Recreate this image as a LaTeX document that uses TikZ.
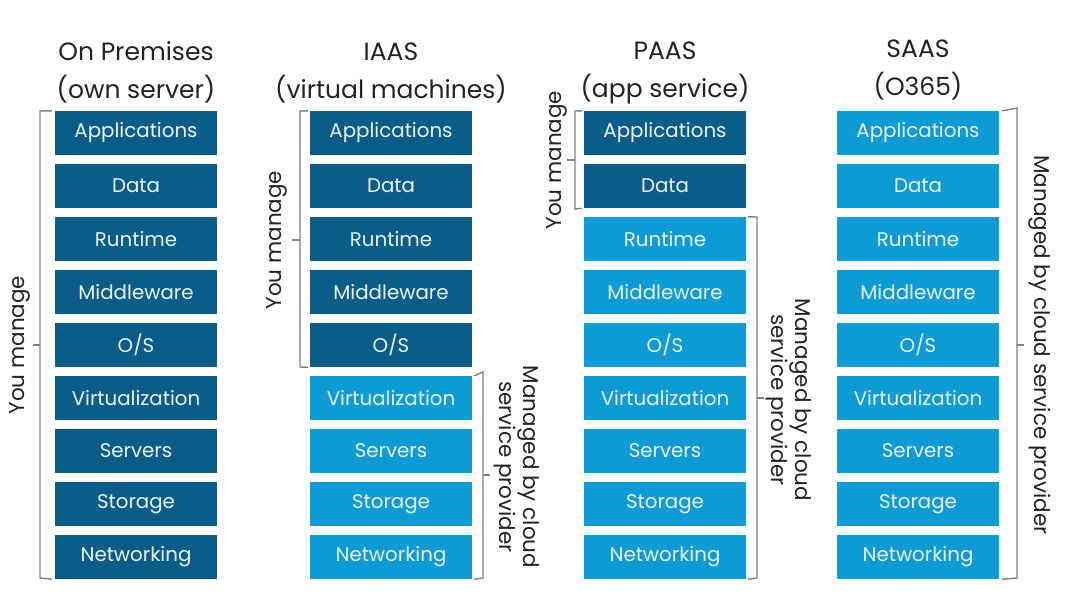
\documentclass[tikz,border=0pt]{standalone}
\usepackage{fontspec}
\setmainfont{Poppins}
\definecolor{darkbox}{RGB}{11,92,136}
\definecolor{lightbox}{RGB}{14,154,212}
\definecolor{boxtext}{RGB}{232,244,250}
\definecolor{brk}{RGB}{128,128,128}
\definecolor{ttl}{RGB}{34,34,34}
\begin{document}
\begin{tikzpicture}[x=1pt,y=-1pt,
  layer/.style={minimum width=162pt,minimum height=44pt,inner sep=0pt,text=boxtext,font=\fontsize{19.8}{22}\selectfont},
  dk/.style={layer,fill=darkbox},
  lt/.style={layer,fill=lightbox},
  title/.style={text=ttl,font=\fontsize{25}{38}\selectfont,align=center,inner sep=0pt},
  bracket/.style={draw=brk,line width=1.4pt},
  blabel/.style={text=ttl,font=\fontsize{21.5}{24}\selectfont,align=center,inner sep=0pt}]
\useasboundingbox (0,0) rectangle (1066,600);
\fill[white] (0,0) rectangle (1066,600);
% column 1
\foreach \t [count=\i] in {Applications,Data,Runtime,Middleware,O/S,Virtualization,Servers,Storage,Networking}
  \node[dk] (a\i) at (136,{133+53*(\i-1)}) {\t};
% column 2
\foreach \t [count=\i] in {Applications,Data,Runtime,Middleware,O/S}
  \node[dk] (b\i) at (391,{133+53*(\i-1)}) {\t};
\foreach \t [count=\i from 6] in {Virtualization,Servers,Storage,Networking}
  \node[lt] (b\i) at (391,{133+53*(\i-1)}) {\t};
% column 3
\foreach \t [count=\i] in {Applications,Data}
  \node[dk] (c\i) at (665,{133+53*(\i-1)}) {\t};
\foreach \t [count=\i from 3] in {Runtime,Middleware,O/S,Virtualization,Servers,Storage,Networking}
  \node[lt] (c\i) at (665,{133+53*(\i-1)}) {\t};
% column 4
\foreach \t [count=\i] in {Applications,Data,Runtime,Middleware,O/S,Virtualization,Servers,Storage,Networking}
  \node[lt] (d\i) at (918,{133+53*(\i-1)}) {\t};
% titles
\node[title] (t1) at (136,72) {On Premises\\(own server)};
\node[title] (t2) at (391,73) {IAAS\\(virtual machines)};
\node[title] (t3) at (665,73) {PAAS\\(app service)};
\node[title] (t4) at (918,70) {SAAS\\(O365)};
% brackets column 1
\draw[bracket] ([xshift=-3pt]a1.north west) -- (40,111) -- (40,578) -- ([xshift=-3pt]a9.south west);
\coordinate (m1) at (40,345);
\draw[bracket] (m1) -- ++(-7,0);
\node[blabel,rotate=90] (l1) at (20,345) {You manage};
% column 2 left
\draw[bracket] ([xshift=-2pt]b1.north west) -- (300,111) -- (300,367) -- ([xshift=-2pt]b5.south west);
\coordinate (m2) at (300,240);
\draw[bracket] (m2) -- ++(-8,0);
\node[blabel,rotate=90] (l2) at (277,240) {You manage};
% column 2 right
\draw[bracket] ([xshift=2pt]b6.north east) -- (483,372) -- (483,578) -- ([xshift=2pt]b9.south east);
\coordinate (m3) at (483,475);
\draw[bracket] (m3) -- ++(7,0);
\node[blabel,rotate=-90] (l3) at (517,467) {Managed by cloud\\service provider};
% column 3 left
\draw[bracket] ([xshift=-2pt]c1.north west) -- (575,111) -- (575,209) -- ([xshift=-2pt]c2.south west);
\coordinate (m4) at (575,160);
\draw[bracket] (m4) -- ++(-8,0);
\node[blabel,rotate=90] (l4) at (557,160) {You manage};
% column 3 right
\draw[bracket] ([xshift=2pt]c3.north east) -- (757,217) -- (757,578) -- ([xshift=2pt]c9.south east);
\coordinate (m5) at (757,398);
\draw[bracket] (m5) -- ++(7,0);
\node[blabel,rotate=-90] (l5) at (789,400) {Managed by cloud\\service provider};
% column 4 right
\draw[bracket] ([xshift=3pt]d1.north east) -- (1017,108) -- (1017,578) -- ([xshift=3pt]d9.south east);
\coordinate (m6) at (1017,345);
\draw[bracket] (m6) -- ++(7,0);
\node[blabel,rotate=-90] (l6) at (1040,345) {Managed by cloud service provider};
\end{tikzpicture}
\end{document}
